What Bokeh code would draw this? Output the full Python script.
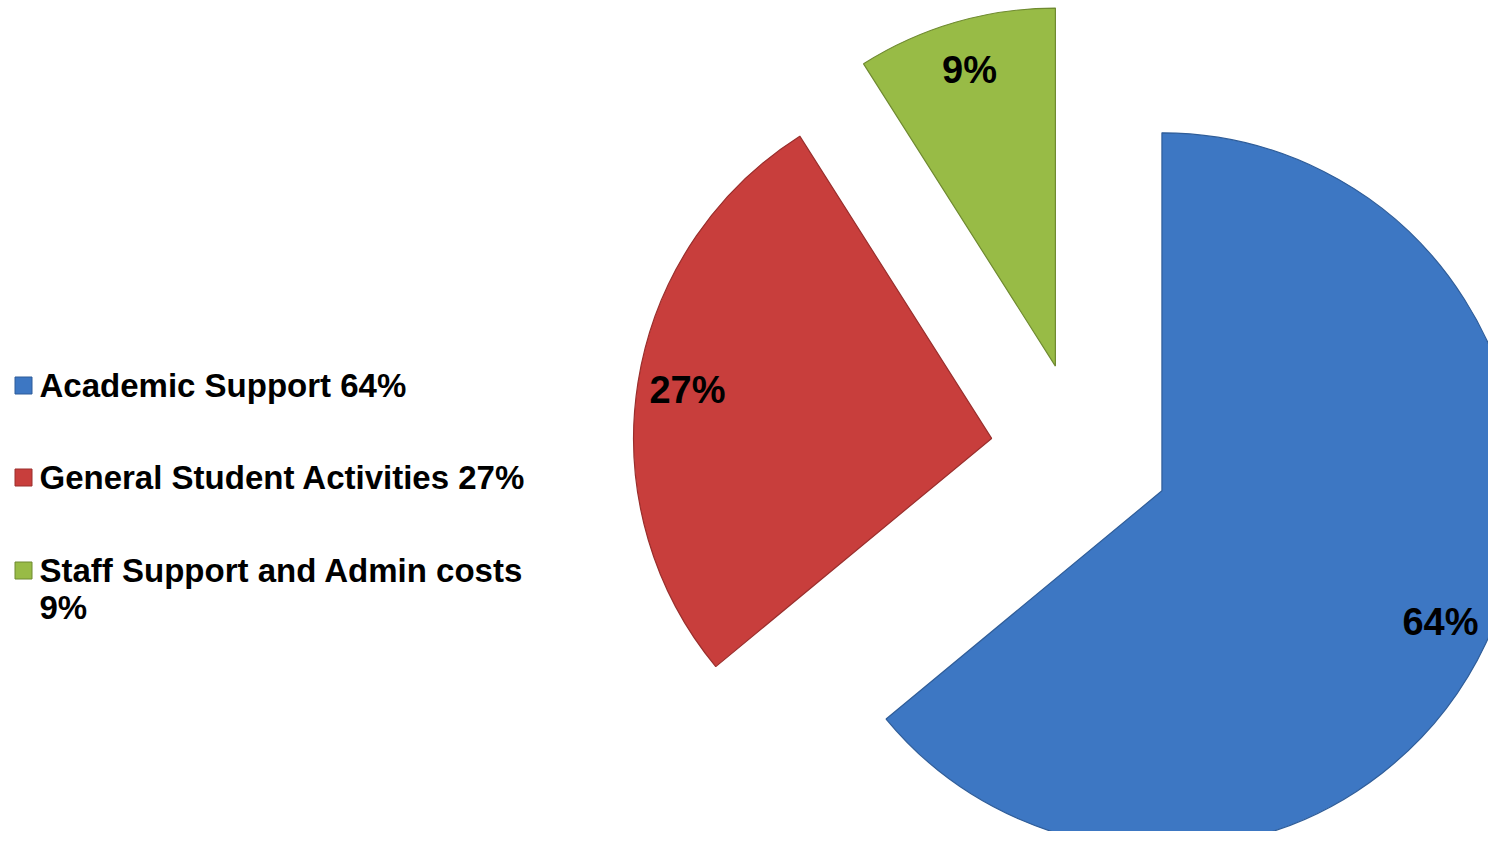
import math
from bokeh.plotting import figure
from bokeh.models import Range1d, ColumnDataSource
from bokeh.core.properties import value
from bokeh.embed import file_html
from bokeh.resources import INLINE

# ---- data ----
categories = ["Academic Support", "General Student Activities", "Staff Support and Admin costs"]
shares = [64, 27, 9]
slice_labels = ["64%", "27%", "9%"]
legend_labels = ["Academic Support 64%", "General Student Activities 27%", "Staff Support and Admin costs\n9%"]
colors = ["#3d77c3", "#c83e3c", "#98bb46"]
edge_colors = ["#2f5d99", "#9a2e2c", "#6f8a30"]

# ---- layout (figure pixel units) ----
W, H = 1488, 831
CX, CY = 1080, 379      # pie centre before exploding
R = 358                 # radius
EXPLODE = 90            # explode distance of every slice
LABEL_R = 0.86 * R      # label distance from the slice apex

p = figure(width=W, height=H, output_backend="svg", toolbar_location=None,
           x_range=Range1d(0, W), y_range=Range1d(0, H),
           min_border=0, outline_line_color=None, background_fill_color="white",
           border_fill_color="white")
p.axis.visible = False
p.grid.visible = False

total = float(sum(shares))
xs, ys, starts, ends, lx, ly = [], [], [], [], [], []
cum = 0.0
for v in shares:
    frac = v / total
    a0 = 90.0 - cum * 360.0
    a1 = 90.0 - (cum + frac) * 360.0
    mid = math.radians((a0 + a1) / 2.0)
    cx = CX + EXPLODE * math.cos(mid)
    cy = CY + EXPLODE * math.sin(mid)
    xs.append(cx); ys.append(cy)
    starts.append(math.radians(a0)); ends.append(math.radians(a1))
    lx.append(cx + LABEL_R * math.cos(mid))
    ly.append(cy + LABEL_R * math.sin(mid))
    cum += frac

src = ColumnDataSource(dict(x=xs, y=ys, start=starts, end=ends, color=colors,
                            edge=edge_colors, lx=lx, ly=ly, lab=slice_labels))
p.wedge(x="x", y="y", radius=R, start_angle="start", end_angle="end", direction="clock",
        fill_color="color", line_color="edge", line_width=1.2, source=src)
p.text(x="lx", y="ly", text="lab", source=src, text_font=value("Liberation Sans"),
       text_font_style="bold", text_font_size="38px", text_align="center",
       text_baseline="middle", text_color="black")

# ---- legend ----
leg_y = [446, 354, 261]
leg_src = ColumnDataSource(dict(mx=[23, 23, 23], my=leg_y, tx=[39, 39, 39],
                                ty=[v + 19 for v in leg_y],
                                txt=legend_labels, color=colors, edge=edge_colors))
p.scatter(x="mx", y="my", marker="square", size=17, fill_color="color", line_color="edge",
          line_width=1, source=leg_src)
p.text(x="tx", y="ty", text="txt", source=leg_src, text_font=value("Liberation Sans"),
       text_font_style="bold", text_font_size="33px", text_align="left",
       text_baseline="top", text_line_height=1.0, text_color="black")

open("out.html", "w").write(file_html(p, INLINE))
